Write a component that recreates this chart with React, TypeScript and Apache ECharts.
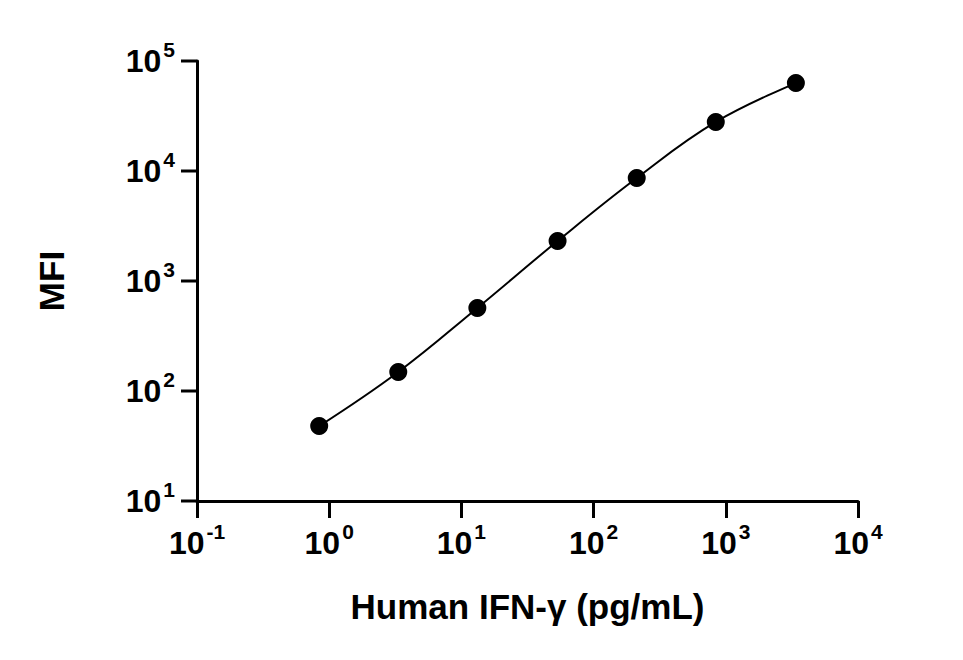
import React, { useEffect, useRef } from 'react';
import * as echarts from 'echarts';

// IFN-γ standard points (4-fold dilution series)
const concentrations = [0.84, 3.33, 13.2, 53.4, 212, 840, 3390];
const mfiValues = [48, 149, 569, 2310, 8630, 27900, 63000];

const xTickExponents = [-1, 0, 1, 2, 3, 4];
const yTickExponents = [1, 2, 3, 4, 5];

const FONT = '"Liberation Sans", Arial, sans-serif';

const powerLabel = (v: number) => {
  const e = Math.round(Math.log10(v));
  return `{b|10}{s|${e}}`;
};

const richLabel = {
  b: { fontSize: 32, fontWeight: 'bold', fontFamily: FONT, color: '#000', lineHeight: 36 },
  s: {
    fontSize: 21,
    fontWeight: 'bold',
    fontFamily: FONT,
    color: '#000',
    lineHeight: 12,
    padding: [0, 0, 24, 2],
  },
};

export default function App() {
  const chartRef = useRef<HTMLDivElement>(null);

  useEffect(() => {
    if (!chartRef.current) return;
    const chart = echarts.init(chartRef.current, null, { renderer: 'svg' });

    const points = concentrations.map((c, i) => [c, mfiValues[i]]);
    const xMin = Math.pow(10, xTickExponents[0]);

    const nameTextStyle = { fontSize: 35, fontWeight: 'bold', fontFamily: FONT, color: '#000' };

    chart.setOption({
      animation: false,
      backgroundColor: '#fff',
      grid: { left: 197, right: 105, top: 61, bottom: 159, containLabel: false },
      xAxis: {
        type: 'log',
        logBase: 10,
        min: xMin,
        max: Math.pow(10, xTickExponents[xTickExponents.length - 1]),
        splitNumber: xTickExponents.length - 1,
        name: 'Human IFN-γ (pg/mL)',
        nameLocation: 'middle',
        nameGap: 88,
        nameTextStyle,
        axisLine: { show: true, lineStyle: { color: '#000', width: 3 } },
        axisTick: { show: true, length: 17, lineStyle: { color: '#000', width: 3 } },
        splitLine: { show: false },
        axisLabel: {
          formatter: powerLabel,
          rich: richLabel,
          fontSize: 32,
          fontFamily: FONT,
          margin: 24,
        },
      },
      yAxis: {
        type: 'log',
        logBase: 10,
        min: Math.pow(10, yTickExponents[0]),
        max: Math.pow(10, yTickExponents[yTickExponents.length - 1]),
        splitNumber: yTickExponents.length - 1,
        name: 'MFI',
        nameLocation: 'middle',
        nameGap: 128,
        nameTextStyle,
        axisLine: { show: true, lineStyle: { color: '#000', width: 3 } },
        // y ticks are drawn below as graphic lines (black axis ticks don't show here)
        axisTick: { show: false },
        splitLine: { show: false },
        axisLabel: {
          formatter: powerLabel,
          rich: richLabel,
          fontSize: 32,
          fontFamily: FONT,
          margin: 22,
        },
      },
      series: [
        {
          type: 'line',
          data: points,
          smooth: 0.4,
          showSymbol: false,
          lineStyle: { color: '#000', width: 2 },
          z: 2,
        },
        {
          type: 'scatter',
          data: points,
          symbol: 'circle',
          symbolSize: 18,
          itemStyle: { color: '#000', opacity: 1 },
          z: 3,
        },
      ],
    });

    // y ticks, placed through the axis scale
    const tickLines = yTickExponents.map((e) => {
      const [px, py] = chart.convertToPixel({ xAxisIndex: 0, yAxisIndex: 0 }, [
        xMin,
        Math.pow(10, e),
      ]);
      return {
        type: 'line',
        shape: { x1: px - 16, y1: py, x2: px, y2: py },
        style: { stroke: '#000', lineWidth: 3 },
        z: 10,
      };
    });
    chart.setOption({ graphic: tickLines });

    return () => {
      chart.dispose();
    };
  }, []);

  return (
    <div
      ref={chartRef}
      style={{ width: 963, height: 660, position: 'absolute', left: 0, top: 0 }}
    />
  );
}
